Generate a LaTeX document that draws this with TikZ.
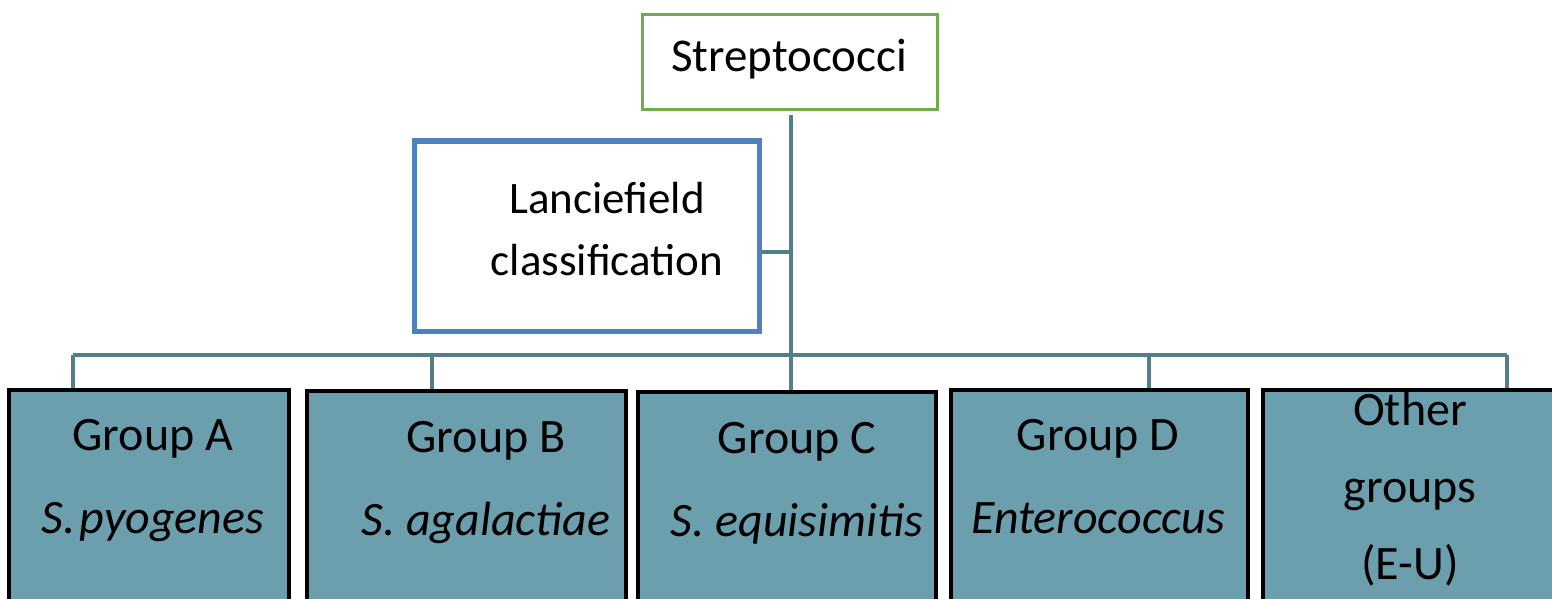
\documentclass[tikz,border=0pt]{standalone}
\usepackage{fontspec}
\setmainfont{Carlito}
\definecolor{conn}{RGB}{84,126,138}
\definecolor{leaf}{RGB}{108,159,174}
\definecolor{rootgreen}{RGB}{112,173,71}
\definecolor{midblue}{RGB}{79,129,189}
\begin{document}
\begin{tikzpicture}[x=1pt,y=-1pt,
  rootbox/.style={draw=rootgreen,line width=3pt,fill=white,minimum width=295pt,minimum height=95pt,inner sep=0pt},
  classbox/.style={draw=midblue,line width=5pt,fill=white,minimum width=345pt,minimum height=190pt,inner sep=0pt},
  leafbox/.style={draw=black,line width=4pt,fill=leaf,minimum height=320pt,inner sep=0pt,anchor=north west},
  connector/.style={draw=conn,line width=4pt},
  lbl/.style={font=\fontsize{48}{83}\selectfont,align=center,anchor=base,inner sep=0pt},
  toplbl/.style={font=\fontsize{45}{62}\selectfont,align=center,anchor=base,inner sep=0pt}
]
\useasboundingbox (0,0) rectangle (1552,599);
\clip (0,0) rectangle (1552,599);
\fill[white] (0,0) rectangle (1552,599);

% upper boxes
\node[rootbox] (strep) at (789.5,62.5) {};
\node[classbox] (lanc) at (586.5,236) {};

% group boxes
\node[leafbox,minimum width=280pt] (ga) at (7,388) {};
\node[leafbox,minimum width=319pt] (gb) at (305,389) {};
\node[leafbox,minimum width=298pt] (gc) at (636,390) {};
\node[leafbox,minimum width=297pt] (gd) at (949,388) {};
\node[leafbox,minimum width=300pt] (ge) at (1261,388) {};

% branching points on the bus
\coordinate (dA) at (73,355);
\coordinate (dB) at (432,355);
\coordinate (dC) at (791,355);
\coordinate (dD) at (1149,355);
\coordinate (dE) at (1507,355);

% trunk, side branch and bus
\draw[connector] ([yshift=-4pt]strep.south -| dC) -- (gc.north -| dC);
\draw[connector] ([yshift=-16pt]lanc.east) -- ([yshift=-16pt]lanc.east -| dC);
\draw[connector] (dA) -- (dE);
\draw[connector] (dA) -- (dA |- ga.north);
\draw[connector] (dB) -- (dB |- gb.north);
\draw[connector] (dD) -- (dD |- gd.north);
\draw[connector] (dE) -- (dE |- ge.north);

% texts (base anchor sits on the last line)
\node[toplbl,font=\fontsize{47}{62}\selectfont] (tstrep) at (789,72) {Streptococci};
\node[toplbl] (tlanc) at (607,275) {Lanciefield\\classification};
\node[lbl] (ta) at (153,533) {Group A\\\textit{S.\kern4pt pyogenes}};
\node[lbl] (tb) at (486,535) {Group B\\\textit{S. agalactiae}};
\node[lbl] (tc) at (797,536) {Group C\\\textit{S. equisimitis}};
\node[lbl] (td) at (1098,533) {Group D\\\textit{Enterococcus}};
\node[lbl,font=\fontsize{48}{77}\selectfont] (te) at (1410,579) {Other\\groups\\(E-U)};
\end{tikzpicture}
\end{document}
